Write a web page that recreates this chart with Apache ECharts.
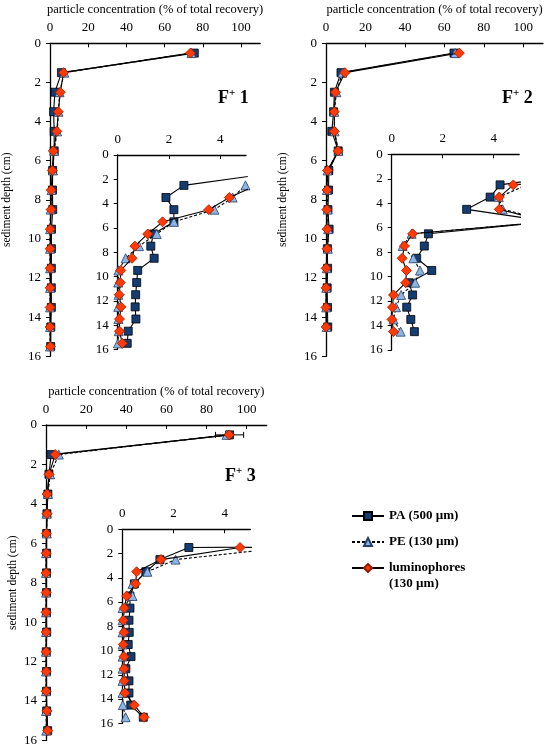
<!DOCTYPE html>
<html>
<head>
<meta charset="utf-8">
<script src="https://cdn.jsdelivr.net/npm/echarts@6/dist/echarts.min.js"></script>
<style>
  html, body { margin: 0; padding: 0; background: #fff; }
  #chart { width: 550px; height: 747px; }
</style>
</head>
<body>
<div id="chart"></div>
<script>
// depth of each sampled layer (cm)
const depths = [0.5, 1.5, 2.5, 3.5, 4.5, 5.5, 6.5, 7.5, 8.5, 9.5, 10.5, 11.5, 12.5, 13.5, 14.5, 15.5];
const depthsF2 = depths.slice(0, 15);

// F+ 1 (% of total recovery)
const f1PA  = [75.5, 6.0, 2.58, 1.88, 2.19, 2.19, 1.39, 1.29, 1.42, 0.78, 0.74, 0.70, 0.68, 0.71, 0.41, 0.37];
const f1PE  = [74.0, 7.5, 4.98, 4.48, 3.77, 2.19, 1.52, 0.83, 0.31, 0.03, 0.02, 0.03, 0.02, 0.03, 0.04, 0.01];
const f1Lum = [73.5, 7.1, 5.40, 4.35, 3.55, 1.75, 1.17, 0.67, 0.56, 0.12, 0.10, 0.06, 0.13, 0.07, 0.07, 0.18];

// F+ 2
const f2PA  = [64.9, 7.6, 4.25, 3.86, 2.94, 6.2, 1.44, 1.28, 0.98, 1.57, 0.69, 0.82, 0.59, 0.75, 0.89];
const f2PE  = [65.5, 8.3, 5.30, 4.20, 4.35, 6.3, 0.78, 0.43, 0.85, 1.11, 0.92, 0.37, 0.17, 0.07, 0.35];
const f2Lum = [67.6, 9.6, 4.77, 4.22, 4.22, 6.1, 0.82, 0.50, 0.41, 0.58, 0.55, 0.07, 0.03, 0.01, 0.07];

// F+ 3
const f3PA  = [91.5, 2.6, 1.47, 0.92, 0.47, 0.30, 0.30, 0.26, 0.27, 0.23, 0.34, 0.14, 0.26, 0.26, 0.33, 0.82];
const f3PE  = [90.0, 6.4, 2.08, 0.98, 0.40, 0.40, 0.01, 0.01, 0.01, 0.01, 0.01, 0.01, 0.01, 0.01, 0.02, 0.13];
const f3Lum = [91.3, 4.6, 1.51, 0.56, 0.52, 0.17, 0.08, 0.04, 0.07, 0.04, 0.07, 0.07, 0.08, 0.10, 0.47, 0.85];
// error bar on the F+ 3 surface layer (PA)
const f3ErrDepth = [0.5];
const f3ErrLow = [84.5];
const f3ErrHigh = [98.5];

const mainTicks = [0, 20, 40, 60, 80, 100];
const insetTicks = [0, 2, 4];
const depthTicks = [0, 2, 4, 6, 8, 10, 12, 14, 16];

const PA = 'PA (500 µm)';
const PE = 'PE (130 µm)';
const LUM = 'luminophores (130 µm)';
const FONT = '"Liberation Serif", "DejaVu Serif", serif';

const styles = {};
styles[PA]  = { symbol: 'rect', symbolSize: 8, color: '#143d74', border: '#000', dash: 'solid' };
styles[PE]  = { symbol: 'triangle', symbolSize: 9, color: '#8db4e2', border: '#24406b', dash: [3, 2] };
styles[LUM] = { symbol: 'diamond', symbolSize: 10, color: '#ff3a05', border: '#9a1a00', dash: 'solid' };

function lineSeries(name, vals, ds, idx) {
    const s = styles[name];
    return {
        type: 'line',
        name: name,
        xAxisIndex: idx,
        yAxisIndex: idx,
        data: ds.map((d, i) => [vals[i], d]),
        symbol: s.symbol,
        symbolSize: s.symbolSize,
        clip: true,
        itemStyle: { color: s.color, borderColor: s.border, borderWidth: 0.8 },
        lineStyle: { color: '#000', width: 1.1, type: s.dash },
        emphasis: { disabled: true },
        z: name === LUM ? 4 : (name === PE ? 3 : 2),
        animation: false
    };
}

function xAxis(idx, main) {
    const ticks = main ? mainTicks : insetTicks;
    return {
        type: 'value',
        gridIndex: idx,
        position: 'top',
        min: 0,
        max: main ? 110 : 5,
        name: main ? 'particle concentration (% of total recovery)' : '',
        nameLocation: 'middle',
        nameGap: 27,
        nameTextStyle: { fontFamily: FONT, fontSize: 12.5, color: '#000' },
        axisLine: { show: true, onZero: false, lineStyle: { color: '#000', width: 1.3 } },
        axisTick: { show: true, inside: true, length: 4, customValues: ticks, lineStyle: { color: '#000' } },
        axisLabel: { customValues: ticks, margin: 9, fontFamily: FONT, fontSize: 13, color: '#000' },
        splitLine: { show: false }
    };
}

function yAxis(idx, main, nameGap) {
    return {
        type: 'value',
        gridIndex: idx,
        inverse: true,
        min: 0,
        max: 16,
        interval: 2,
        name: main ? 'sediment depth (cm)' : '',
        nameLocation: 'middle',
        nameGap: nameGap || 35,
        nameTextStyle: { fontFamily: FONT, fontSize: 11.5, color: '#000' },
        axisLine: { show: true, onZero: false, lineStyle: { color: '#000', width: 1.3 } },
        axisTick: { show: true, inside: false, length: 4, customValues: depthTicks, lineStyle: { color: '#000' } },
        axisLabel: { customValues: depthTicks, margin: 9, fontFamily: FONT, fontSize: 13, color: '#000' },
        splitLine: { show: false }
    };
}

function panelLabel(num, left, top) {
    return {
        type: 'text',
        left: left,
        top: top,
        style: {
            text: '{b|F}{s|+}{b| ' + num + '}',
            rich: {
                b: { fontFamily: FONT, fontSize: 18, fontWeight: 'bold', fill: '#000', verticalAlign: 'bottom' },
                s: { fontFamily: FONT, fontSize: 11, fontWeight: 'bold', fill: '#000', verticalAlign: 'top', padding: [0, 0, 8, 0] }
            }
        }
    };
}

const chart = echarts.init(document.getElementById('chart'), null, { renderer: 'canvas' });

const option = {
    backgroundColor: '#fff',
    animation: false,
    grid: [
        { left: 48.7, top: 43.3, width: 211.5, height: 313 },
        { left: 117.7, top: 155, width: 128.3, height: 194.4 },
        { left: 326, top: 43.3, width: 217, height: 313 },
        { left: 391.7, top: 154.3, width: 127.5, height: 195.7 },
        { left: 46, top: 425, width: 220.7, height: 316 },
        { left: 122.3, top: 529.3, width: 128, height: 194 }
    ],
    xAxis: [xAxis(0, true), xAxis(1, false), xAxis(2, true), xAxis(3, false), xAxis(4, true), xAxis(5, false)],
    yAxis: [yAxis(0, true, 37), yAxis(1, false), yAxis(2, true, 37), yAxis(3, false), yAxis(4, true, 27), yAxis(5, false)],
    legend: {
        data: [PA, PE, LUM],
        orient: 'vertical',
        left: 346,
        top: 503,
        itemWidth: 32,
        itemHeight: 10,
        itemGap: 10,
        selectedMode: false,
        formatter: function (name) {
            return name === LUM ? 'luminophores' : name;
        },
        textStyle: { fontFamily: FONT, fontSize: 13, fontWeight: 'bold', color: '#000', lineHeight: 16 }
    },
    graphic: [
        panelLabel(1, 218, 88),
        panelLabel(2, 502, 88),
        panelLabel(3, 225, 466),
        {
            type: 'text',
            left: 389,
            top: 577,
            style: { text: '(130 µm)', fontFamily: FONT, fontSize: 13, fontWeight: 'bold', fill: '#000' }
        }
    ],
    series: []
};

const panels = [
    [depths, f1PA, f1PE, f1Lum, 0],
    [depthsF2, f2PA, f2PE, f2Lum, 2],
    [depths, f3PA, f3PE, f3Lum, 4]
];

panels.forEach(function (p) {
    const ds = p[0];
    [p[4], p[4] + 1].forEach(function (idx) {
        option.series.push(lineSeries(PA, p[1], ds, idx));
        option.series.push(lineSeries(PE, p[2], ds, idx));
        option.series.push(lineSeries(LUM, p[3], ds, idx));
    });
});

option.series.push({
    type: 'custom',
    name: 'error',
    xAxisIndex: 4,
    yAxisIndex: 4,
    z: 1,
    data: f3ErrDepth.map((d, i) => [f3ErrLow[i], f3ErrHigh[i], d]),
    encode: { x: [0, 1], y: 2 },
    renderItem: function (params, api) {
        const lo = api.coord([api.value(0), api.value(2)]);
        const hi = api.coord([api.value(1), api.value(2)]);
        const st = { stroke: '#000', lineWidth: 1 };
        return {
            type: 'group',
            children: [
                { type: 'line', shape: { x1: lo[0], y1: lo[1], x2: hi[0], y2: hi[1] }, style: st },
                { type: 'line', shape: { x1: lo[0], y1: lo[1] - 3, x2: lo[0], y2: lo[1] + 3 }, style: st },
                { type: 'line', shape: { x1: hi[0], y1: hi[1] - 3, x2: hi[0], y2: hi[1] + 3 }, style: st }
            ]
        };
    }
});

chart.setOption(option);
</script>
</body>
</html>
